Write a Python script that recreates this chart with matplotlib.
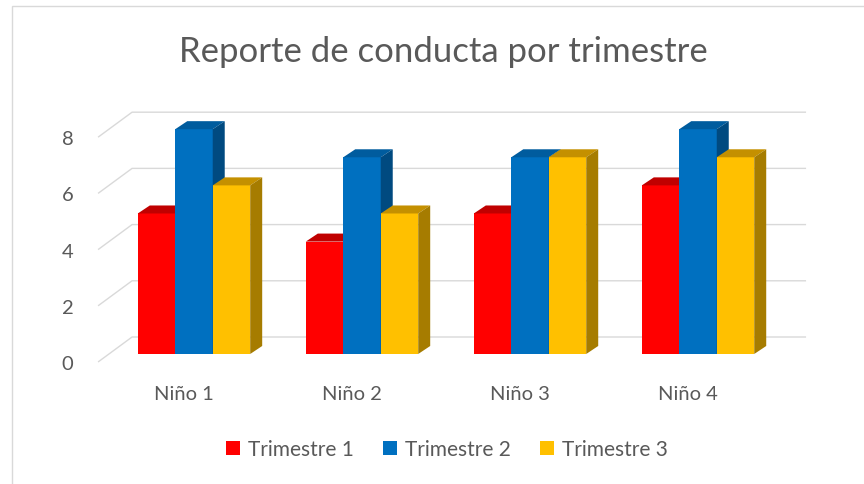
import numpy as np
import matplotlib
matplotlib.use("Agg")
import matplotlib.pyplot as plt
from matplotlib.patches import Polygon, Rectangle

# data
ninos = ['Niño 1', 'Niño 2', 'Niño 3', 'Niño 4']
series = ['Trimestre 1', 'Trimestre 2', 'Trimestre 3']
trim1 = [5, 4, 5, 6]
trim2 = [8, 7, 7, 8]
trim3 = [6, 5, 7, 7]
yticks = [0, 2, 4, 6, 8]

# colours: front, top, side
front_cols = ['#FF0000', '#0070C0', '#FFC000']
top_cols = ['#C00000', '#005C9E', '#C49000']
side_cols = ['#A00000', '#004A80', '#A67C00']
grey = '#595959'
grid_col = '#D9D9D9'
font = 'Lato'

# fake 3d geometry (data units)
bw = 0.223          # bar width
bar_base = 0.285    # front face raised above front floor
bdx, bdy = 0.0714, 0.285   # bar depth
wdx, wdy = 0.2024, 0.89    # floor depth to back wall
floor_left, wall_right = -0.571, 3.643

W, H = 864, 485
fig = plt.figure(figsize=(W / 100, H / 100), dpi=100)
ax = fig.add_axes([90 / W, (H - 375) / H, 730 / W, 275 / H])
ax.set_xlim(-0.619, 3.726)
ax.set_ylim(-0.427, 9.359)
for s in ax.spines.values():
    s.set_visible(False)

# gridlines: slanted floor part + back wall
for v in yticks:
    ax.plot([floor_left, floor_left + wdx, wall_right], [v, v + wdy, v + wdy],
            color=grid_col, lw=1.0, zorder=1, solid_capstyle='butt')

x = np.arange(len(ninos))
vals = [trim1, trim2, trim3]
handles = []
for i in range(len(ninos)):
    for j in range(3):
        xc = x[i] + (j - 1) * bw
        h = vals[j][i]
        b = ax.bar(xc, h, bw, bottom=bar_base, color=front_cols[j],
                   zorder=3 + j, label=series[j] if i == 0 else None)
        if i == 0:
            handles.append(b)
        x0, x1 = xc - bw / 2, xc + bw / 2
        top = bar_base + h
        ax.add_patch(Polygon([(x0, top), (x0 + bdx, top + bdy),
                              (x1 + bdx, top + bdy), (x1, top)],
                             closed=True, color=top_cols[j], lw=0, zorder=3 + j))
        ax.add_patch(Polygon([(x1, bar_base), (x1 + bdx, bar_base + bdy),
                              (x1 + bdx, top + bdy), (x1, top)],
                             closed=True, color=side_cols[j], lw=0, zorder=3 + j))

ax.set_yticks(yticks)
ax.set_yticklabels([str(v) for v in yticks], fontsize=14.5, color=grey, family=font)
ax.tick_params(axis='y', length=0, pad=12)
ax.set_xticks(x - 0.06)
ax.set_xticklabels(ninos, fontsize=14.5, color=grey, family=font)
ax.tick_params(axis='x', length=0, pad=8)

fig.text(443 / W, 1 - 52 / H, 'Reporte de conducta por trimestre',
         ha='center', va='center', fontsize=25, color=grey, family=font)

fig.legend(handles=handles, labels=series, loc='center',
           bbox_to_anchor=(447 / W, 1 - 450 / H), ncol=3, frameon=False,
           handlelength=0.65, handleheight=0.65, handletextpad=0.4,
           columnspacing=1.4, prop={'family': font, 'size': 15},
           labelcolor=grey)

# chart frame
fig.patches.append(Rectangle((11.5 / W, -0.1), 1.2, 1 - 7 / H + 0.1,
                             transform=fig.transFigure, fill=False,
                             edgecolor=grid_col, lw=1.0))

fig.savefig('out.png', dpi=100)
